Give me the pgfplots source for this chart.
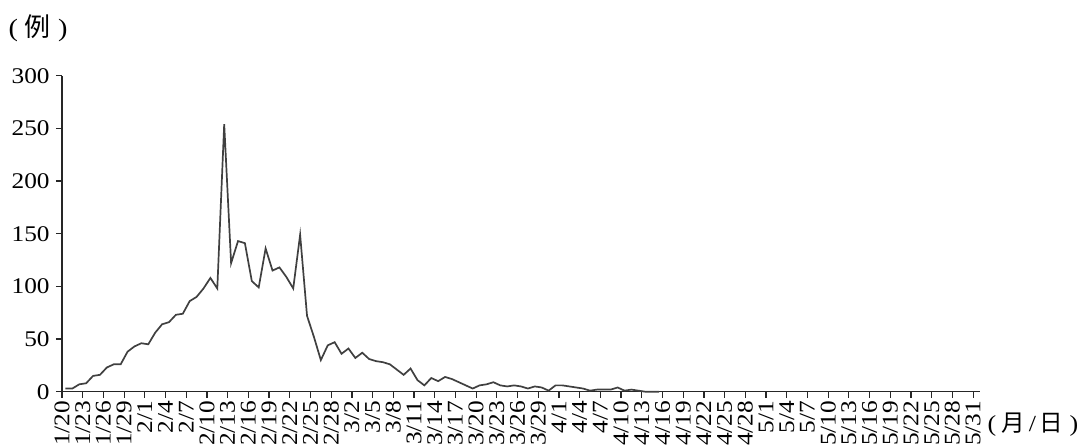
\documentclass[border=0pt]{standalone}
\usepackage{fontspec}
\setmainfont{Liberation Serif}[FakeStretch=1.13]
\newfontfamily\cjk{Noto Sans CJK SC}
\usepackage{pgfplots}
\pgfplotsset{compat=1.18}
\begin{document}
\begin{tikzpicture}
\begin{axis}[name=ax, scale only axis, width=459pt, height=158pt,
  xmin=0, xmax=133, ymin=0, ymax=300,
  axis x line*=bottom, axis y line*=left,
  axis line style={line width=0.75pt, black!85},
  xtick={0,3,...,132},
  xticklabels={1/20,1/23,1/26,1/29,2/1,2/4,2/7,2/10,2/13,2/16,2/19,2/22,2/25,2/28,3/2,3/5,3/8,3/11,3/14,3/17,3/20,3/23,3/26,3/29,4/1,4/4,4/7,4/10,4/13,4/16,4/19,4/22,4/25,4/28,5/1,5/4,5/7,5/10,5/13,5/16,5/19,5/22,5/25,5/28,5/31},
  ytick={0,50,...,300},
  tick align=outside, major tick length=3pt,
  tick style={line width=0.6pt, black!85},
  x tick label style={rotate=90, anchor=east, font=\fontsize{11.2}{11.2}\selectfont, inner sep=1.3pt},
  y tick label style={font=\fontsize{11.2}{11.2}\selectfont, inner sep=3pt},
  /pgf/number format/assume math mode=true,
  clip=false]
\addplot[line width=0.85pt, color=black!75, mark=none] coordinates {
(0.5,3)(1.5,3)(2.5,7)(3.5,8)(4.5,15)(5.5,16)(6.5,23)(7.5,26)(8.5,26)(9.5,38)
(10.5,43)(11.5,46)(12.5,45)(13.5,56)(14.5,64)(15.5,66)(16.5,73)(17.5,74)(18.5,86)(19.5,90)
(20.5,98)(21.5,108)(22.5,98)(23.5,254)(24.5,122)(25.5,143)(26.5,141)(27.5,105)(28.5,99)(29.5,136)
(30.5,115)(31.5,118)(32.5,109)(33.5,98)(34.5,149)(35.5,72)(36.5,52)(37.5,30)(38.5,44)(39.5,47)
(40.5,36)(41.5,41)(42.5,32)(43.5,37)(44.5,31)(45.5,29)(46.5,28)(47.5,26)(48.5,21)(49.5,16)
(50.5,22)(51.5,11)(52.5,6)(53.5,13)(54.5,10)(55.5,14)(56.5,12)(57.5,9)(58.5,6)(59.5,3)
(60.5,6)(61.5,7)(62.5,9)(63.5,6)(64.5,5)(65.5,6)(66.5,5)(67.5,3)(68.5,5)(69.5,4)
(70.5,1)(71.5,6)(72.5,6)(73.5,5)(74.5,4)(75.5,3)(76.5,1)(77.5,2)(78.5,2)(79.5,2)
(80.5,4)(81.5,1)(82.5,2)(83.5,1)(84.5,0)(85.5,0)(86.5,0)
};
\end{axis}
\node[font=\fontsize{12.5}{12.5}\selectfont, inner sep=0pt] at ([xshift=-12pt,yshift=23.6pt]ax.north west) {(\hspace{3.5pt}{\cjk\fontsize{13}{13}\selectfont 例}\hspace{3.5pt})};
\node[font=\fontsize{11.5}{11.5}\selectfont, inner sep=0pt] at ([xshift=26.5pt,yshift=-16.5pt]ax.south east) {(\hspace{2.5pt}{\cjk\fontsize{11.8}{11.8}\selectfont 月}\hspace{2pt}/\hspace{1.5pt}{\cjk\fontsize{11.8}{11.8}\selectfont 日}\hspace{3.5pt})};
\pgfresetboundingbox
\path[use as bounding box] ([xshift=-31pt,yshift=-28.15pt]ax.south west) rectangle ([xshift=49.5pt,yshift=37.85pt]ax.north east);
\end{tikzpicture}
\end{document}
